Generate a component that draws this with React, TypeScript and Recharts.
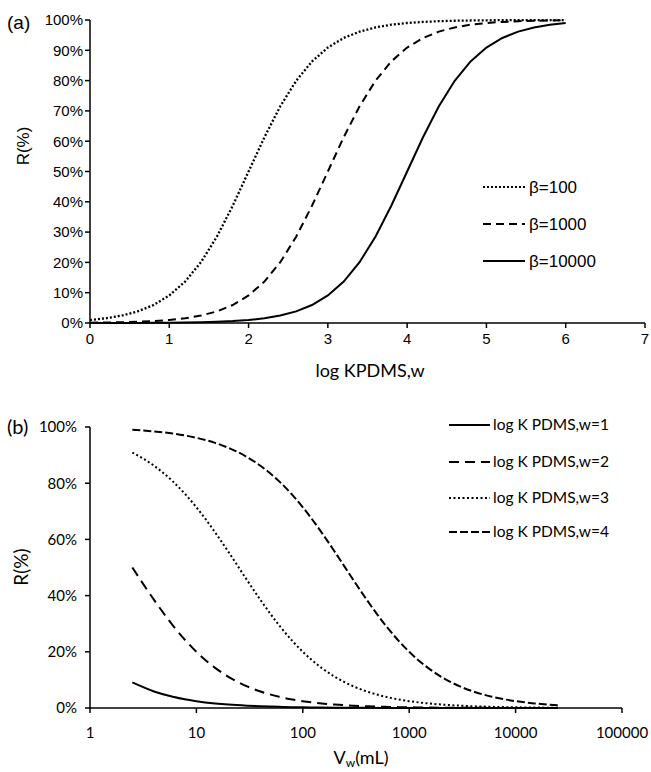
import React from "react";
import { LineChart, Line, XAxis, YAxis, Legend } from "recharts";

// (a) recovery vs log K PDMS,w for three phase ratios
const logK = [
  0, 0.2, 0.4, 0.6, 0.8, 1, 1.2, 1.4, 1.6, 1.8, 2, 2.2, 2.4, 2.6, 2.8, 3, 3.2,
  3.4, 3.6, 3.8, 4, 4.2, 4.4, 4.6, 4.8, 5, 5.2, 5.4, 5.6, 5.8, 6,
];
const beta100 = [
  0.99, 1.56, 2.45, 3.83, 5.93, 9.09, 13.68, 20.08, 28.47, 38.69, 50, 61.31,
  71.53, 79.92, 86.32, 90.91, 94.07, 96.17, 97.55, 98.44, 99.01, 99.37, 99.6,
  99.75, 99.84, 99.9, 99.94, 99.96, 99.97, 99.98, 99.99,
];
const beta1000 = [
  0.1, 0.16, 0.25, 0.4, 0.63, 0.99, 1.56, 2.45, 3.83, 5.93, 9.09, 13.68, 20.08,
  28.47, 38.69, 50, 61.31, 71.53, 79.92, 86.32, 90.91, 94.07, 96.17, 97.55,
  98.44, 99.01, 99.37, 99.6, 99.75, 99.84, 99.9,
];
const beta10000 = [
  0.01, 0.02, 0.03, 0.04, 0.06, 0.1, 0.16, 0.25, 0.4, 0.63, 0.99, 1.56, 2.45,
  3.83, 5.93, 9.09, 13.68, 20.08, 28.47, 38.69, 50, 61.31, 71.53, 79.92, 86.32,
  90.91, 94.07, 96.17, 97.55, 98.44, 99.01,
];
const topXTicks = [0, 1, 2, 3, 4, 5, 6, 7];
const topYTicks = [0, 10, 20, 30, 40, 50, 60, 70, 80, 90, 100];

// (b) recovery vs water volume for four log K values
const vw = [
  2.5, 4, 6, 8, 10, 15, 20, 30, 40, 60, 80, 100, 150, 200, 300, 400, 600, 800,
  1000, 1500, 2000, 3000, 4000, 6000, 8000, 10000, 15000, 20000, 25000,
];
const logK1 = [
  9.09, 5.88, 4.0, 3.03, 2.44, 1.64, 1.23, 0.83, 0.62, 0.41, 0.31, 0.25, 0.17,
  0.12, 0.08, 0.06, 0.04, 0.03, 0.03, 0.02, 0.01, 0.01, 0.01, 0, 0, 0, 0, 0, 0,
];
const logK2 = [
  50, 38.46, 29.41, 23.81, 20, 14.29, 11.11, 7.69, 5.88, 4.0, 3.03, 2.44, 1.64,
  1.23, 0.83, 0.62, 0.41, 0.31, 0.25, 0.17, 0.12, 0.08, 0.06, 0.04, 0.03, 0.03,
  0.02, 0.01, 0.01,
];
const logK3 = [
  90.91, 86.21, 80.65, 75.76, 71.43, 62.5, 55.56, 45.45, 38.46, 29.41, 23.81,
  20, 14.29, 11.11, 7.69, 5.88, 4.0, 3.03, 2.44, 1.64, 1.23, 0.83, 0.62, 0.41,
  0.31, 0.25, 0.17, 0.12, 0.1,
];
const logK4 = [
  99.01, 98.43, 97.66, 96.9, 96.15, 94.34, 92.59, 89.29, 86.21, 80.65, 75.76,
  71.43, 62.5, 55.56, 45.45, 38.46, 29.41, 23.81, 20, 14.29, 11.11, 7.69, 5.88,
  4.0, 3.03, 2.44, 1.64, 1.23, 0.99,
];
const bottomXTicks = [1, 10, 100, 1000, 10000, 100000];
const bottomYTicks = [0, 20, 40, 60, 80, 100];

const topSeries = [
  { key: "b100", name: "β=100", dash: "2 2" },
  { key: "b1000", name: "β=1000", dash: "8 5" },
  { key: "b10000", name: "β=10000", dash: undefined },
];
const bottomSeries = [
  { key: "k1", name: "log K PDMS,w=1", dash: undefined },
  { key: "k2", name: "log K PDMS,w=2", dash: "10 6" },
  { key: "k3", name: "log K PDMS,w=3", dash: "2 2.5" },
  { key: "k4", name: "log K PDMS,w=4", dash: "8 3" },
];

const topData = logK.map((x, i) => ({
  x,
  b100: beta100[i],
  b1000: beta1000[i],
  b10000: beta10000[i],
}));
const bottomData = vw.map((x, i) => ({
  x,
  k1: logK1[i],
  k2: logK2[i],
  k3: logK3[i],
  k4: logK4[i],
}));

const ARIAL = "'Liberation Sans', Arial, sans-serif";
const CALIBRI = "Lato, 'Open Sans', sans-serif";
const axisStroke = { stroke: "#000", strokeWidth: 1.5 };

const TopLegend = () => (
  <svg width={170} height={100}>
    {topSeries.map((s, i) => {
      const y = 17 + i * 37;
      return (
        <g key={s.key}>
          <line x1={3} x2={45} y1={y} y2={y} stroke="#000" strokeWidth={2} strokeDasharray={s.dash} />
          <text x={49} y={y + 6} fontFamily={ARIAL} fontSize={17} fill="#000">
            {s.name}
          </text>
        </g>
      );
    })}
  </svg>
);

const BottomLegend = () => (
  <svg width={200} height={150}>
    {bottomSeries.map((s, i) => {
      const y = [25, 62, 98, 132][i];
      return (
        <g key={s.key}>
          <line x1={4} x2={45} y1={y} y2={y} stroke="#000" strokeWidth={2} strokeDasharray={s.dash} />
          <text x={48} y={y + 5} fontFamily={CALIBRI} fontSize={15.5} fill="#000">
            {s.name}
          </text>
        </g>
      );
    })}
  </svg>
);

export default function App() {
  return (
    <div
      style={{
        position: "absolute",
        left: 0,
        top: 0,
        width: 651,
        height: 772,
        background: "#fff",
        overflow: "hidden",
      }}
    >
      {/* panel (a) */}
      <div style={{ position: "absolute", left: 0, top: 0 }}>
        <LineChart width={651} height={383} data={topData} margin={{ top: 20, right: 6, left: 0, bottom: 0 }}>
          <XAxis
            dataKey="x"
            type="number"
            domain={[0, 7]}
            ticks={topXTicks}
            interval={0}
            height={60}
            axisLine={axisStroke}
            tickLine={axisStroke}
            tickSize={5}
            tickMargin={5}
            tick={{ fill: "#000", fontSize: 15, fontFamily: ARIAL }}
          />
          <YAxis
            type="number"
            domain={[0, 100]}
            ticks={topYTicks}
            interval={0}
            width={90}
            tickFormatter={(v: number) => `${v}%`}
            axisLine={axisStroke}
            tickLine={axisStroke}
            tickSize={5}
            tickMargin={2}
            tick={{ fill: "#000", fontSize: 15, fontFamily: ARIAL }}
          />
          <Legend
            layout="horizontal"
            verticalAlign="middle"
            align="center"
            wrapperStyle={{ left: 480, top: 170, width: 170, height: 100 }}
            content={() => <TopLegend />}
          />
          {topSeries.map((s) => (
            <Line
              key={s.key}
              dataKey={s.key}
              name={s.name}
              type="linear"
              stroke="#000"
              strokeWidth={s.dash === "2 2" ? 2.3 : 2}
              strokeDasharray={s.dash}
              dot={false}
              isAnimationActive={false}
            />
          ))}
        </LineChart>
      </div>

      {/* panel (b) */}
      <div style={{ position: "absolute", left: 0, top: 400 }}>
        <LineChart width={651} height={372} data={bottomData} margin={{ top: 27, right: 29, left: 0, bottom: 0 }}>
          <XAxis
            dataKey="x"
            type="number"
            scale="log"
            domain={[1, 100000]}
            allowDataOverflow
            ticks={bottomXTicks}
            interval={0}
            height={64}
            axisLine={axisStroke}
            tickLine={axisStroke}
            tickSize={5}
            tickMargin={14}
            tick={{ fill: "#000", fontSize: 15, fontFamily: CALIBRI }}
          />
          <YAxis
            type="number"
            domain={[0, 100]}
            ticks={bottomYTicks}
            interval={0}
            width={90}
            tickFormatter={(v: number) => `${v}%`}
            axisLine={axisStroke}
            tickLine={axisStroke}
            tickSize={5}
            tickMargin={8}
            tick={{ fill: "#000", fontSize: 15, fontFamily: CALIBRI }}
          />
          <Legend
            layout="horizontal"
            verticalAlign="middle"
            align="center"
            wrapperStyle={{ left: 445, top: 0, width: 200, height: 150 }}
            content={() => <BottomLegend />}
          />
          {bottomSeries.map((s) => (
            <Line
              key={s.key}
              dataKey={s.key}
              name={s.name}
              type="monotone"
              stroke="#000"
              strokeWidth={2}
              strokeDasharray={s.dash}
              dot={false}
              isAnimationActive={false}
            />
          ))}
        </LineChart>
      </div>

      {/* panel letters and axis titles */}
      <svg
        width={651}
        height={772}
        style={{ position: "absolute", left: 0, top: 0, pointerEvents: "none" }}
      >
        <text x={7} y={29} fontFamily={ARIAL} fontSize={19} fill="#000">
          (a)
        </text>
        <text x={29} y={146} transform="rotate(-90 29 146)" textAnchor="middle" fontFamily={ARIAL} fontSize={17} fill="#000">
          R(%)
        </text>
        <text x={370} y={377} textAnchor="middle" fontFamily={CALIBRI} fontSize={18} fill="#000">
          log KPDMS,w
        </text>
        <text x={7} y={434} fontFamily={CALIBRI} fontSize={20} fill="#000">
          (b)
        </text>
        <text x={28} y={567} transform="rotate(-90 28 567)" textAnchor="middle" fontFamily={CALIBRI} fontSize={19} fill="#000">
          R(%)
        </text>
        <text x={361} y={764} textAnchor="middle" fontFamily={CALIBRI} fontSize={18} fill="#000">
          V<tspan fontSize={12} dy={3}>w</tspan>
          <tspan dy={-3}>(mL)</tspan>
        </text>
      </svg>
    </div>
  );
}
